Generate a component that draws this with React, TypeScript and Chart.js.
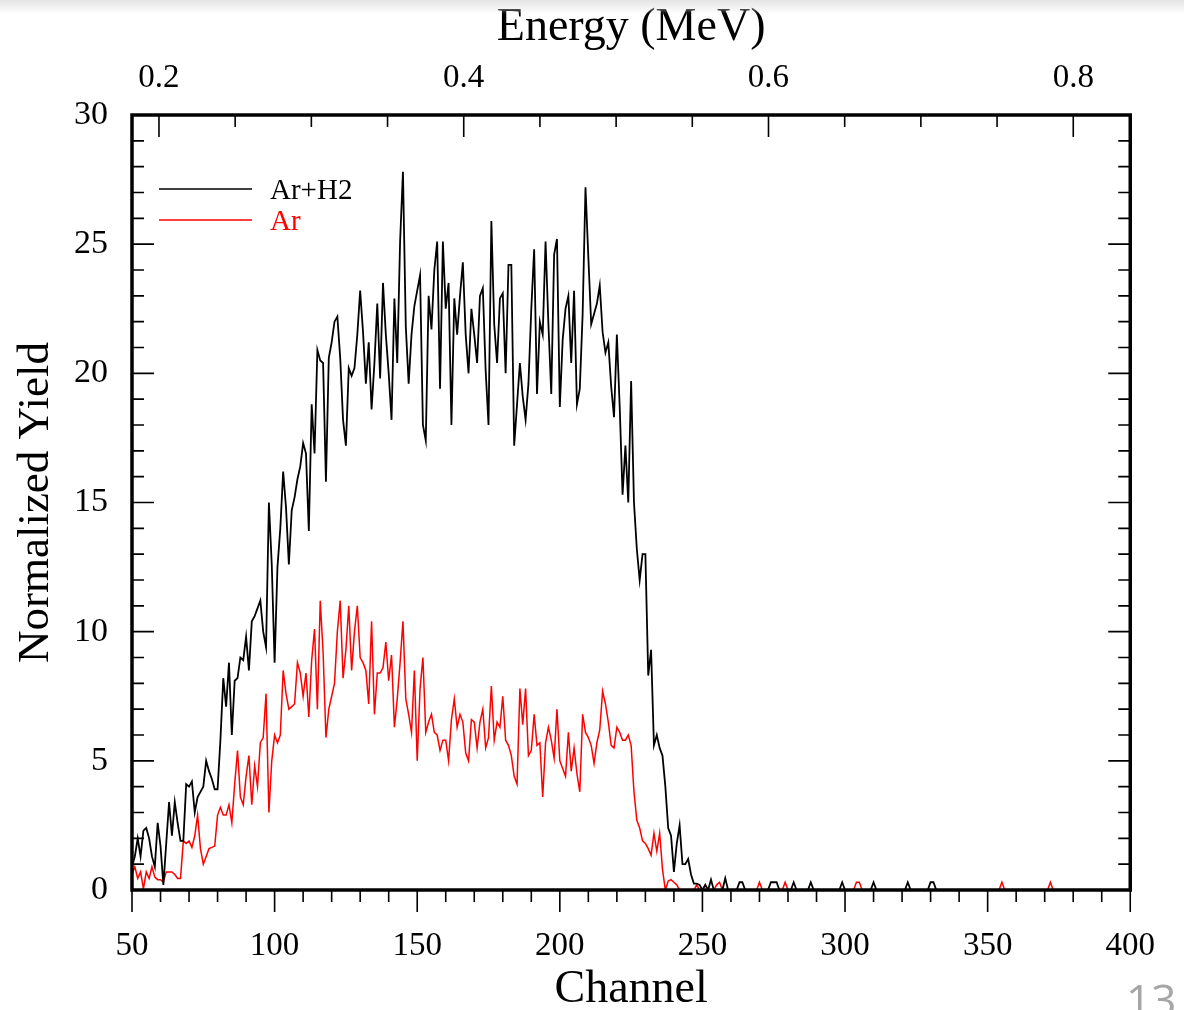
import React, { useEffect, useRef } from "react";
import { Chart, registerables } from "chart.js";

Chart.register(...registerables);

// ---------- data ----------
const startChannel = 50;

// Ar+H2 yield, one value per channel starting at channel 50 (50..259)
const arH2Main = [
  0.9, 1.3, 2.0, 1.3, 2.3, 2.4, 2.0, 1.3, 0.9, 2.6,
  1.7, 0.2, 1.8, 3.4, 2.1, 3.4, 2.6, 1.9, 1.9, 4.1,
  4.0, 4.2, 3.0, 3.6, 3.8, 4.0, 5.0, 4.6, 4.3, 3.9,
  3.9, 5.8, 8.2, 7.1, 8.8, 6.0, 8.1, 8.2, 9.0, 8.9,
  9.8, 8.5, 10.4, 10.6, 10.9, 11.2, 10.0, 9.4, 15.0, 12.6,
  8.8, 12.5, 14.0, 16.2, 14.8, 12.6, 14.7, 15.2, 15.9, 16.4,
  17.3, 16.9, 13.9, 18.8, 16.9, 20.9, 20.5, 20.4, 15.8, 20.6,
  21.2, 22.0, 22.2, 20.6, 18.2, 17.2, 20.2, 19.9, 20.2, 21.5,
  23.2, 21.6, 19.6, 21.2, 18.6, 20.4, 22.7, 19.8, 23.5, 21.5,
  20.0, 18.2, 22.9, 20.4, 25.1, 27.8, 21.8, 19.6, 21.5, 22.6,
  23.2, 23.8, 18.0, 17.4, 23.0, 21.7, 24.0, 25.1, 19.4, 25.1,
  22.5, 23.5, 18.0, 22.9, 21.5, 23.0, 24.3, 21.5, 20.0, 22.5,
  21.5, 20.4, 23.0, 23.3, 20.1, 18.0, 25.9, 21.9, 20.4, 22.9,
  23.1, 20.0, 24.2, 24.2, 17.2, 18.8, 20.4, 19.1, 18.2, 19.6,
  22.5, 24.8, 19.2, 22.0, 21.5, 25.1, 21.9, 19.2, 24.6, 25.2,
  18.7, 21.3, 22.5, 23.0, 20.4, 23.2, 18.8, 19.4, 22.3, 27.2,
  24.5, 21.9, 22.3, 22.7, 23.4, 21.6, 20.8, 21.2, 19.5, 18.3,
  21.5, 18.7, 15.3, 17.2, 15.0, 19.7, 15.0, 13.2, 12.0, 13.0,
  13.0, 8.3, 9.3, 5.6, 6.0, 5.5, 5.2, 4.0, 2.4, 2.1,
  0.7, 1.8, 2.5, 1.0, 1.0, 1.2, 0.6, 0.25, 0.25, 0.2,
  0.0, 0.2, 0.0, 0.4, 0.0, 0.0, 0.0, 0.0, 0.45, 0.0,
];

// Ar yield, one value per channel starting at channel 50 (50..259)
const arMain = [
  0.6, 0.9, 0.45, 0.7, 0.05, 0.7, 0.45, 0.9, 0.5, 0.4,
  0.4, 0.3, 0.7, 0.7, 0.7, 0.6, 0.45, 0.45, 1.9, 1.8,
  1.9, 1.65, 2.1, 2.9, 1.6, 1.0, 1.3, 1.6, 1.65, 1.7,
  2.9, 3.2, 2.9, 2.9, 3.3, 2.6, 4.1, 5.4, 3.6, 3.3,
  4.4, 5.2, 3.3, 4.8, 4.0, 5.7, 5.9, 7.6, 3.0, 5.0,
  6.0, 5.7, 6.0, 8.5, 7.6, 7.0, 7.1, 7.2, 8.8, 8.4,
  7.5, 8.4, 6.7, 8.9, 10.1, 7.0, 11.2, 9.2, 5.9, 7.0,
  7.5, 8.0, 10.0, 11.2, 8.2, 9.3, 11.0, 8.5, 10.0, 11.0,
  9.0, 8.8, 8.5, 7.2, 10.4, 6.8, 8.4, 8.4, 8.6, 9.6,
  8.1, 9.1, 6.3, 7.4, 8.8, 10.4, 7.4, 6.8, 6.1, 8.5,
  5.0, 7.8, 9.0, 6.1, 6.5, 6.8, 6.1, 6.0, 5.4, 5.8,
  5.8, 5.0, 6.6, 7.4, 6.3, 6.8, 6.5, 5.3, 5.0, 6.6,
  6.5, 5.5, 6.5, 7.0, 5.5, 5.9, 7.9, 5.8, 6.5, 6.3,
  7.5, 5.8, 5.6, 5.2, 4.4, 4.1, 7.8, 6.4, 7.8, 5.2,
  5.4, 6.8, 5.6, 5.7, 3.6, 5.7, 6.3, 5.8, 5.1, 7.0,
  5.0, 4.7, 4.4, 6.1, 4.6, 5.5, 4.5, 3.8, 6.8, 6.1,
  5.9, 5.6, 4.9, 5.7, 6.2, 7.7, 7.2, 6.5, 5.6, 5.5,
  6.3, 6.1, 5.8, 5.8, 6.0, 5.6, 3.8, 2.7, 2.4, 1.9,
  1.8, 1.6, 1.35, 2.2, 1.5, 2.2, 0.8, 0.0, 0.35, 0.4,
  0.3, 0.2, 0.0, 0.0, 0.0, 0.0, 0.0, 0.0, 0.2, 0.0,
  0.0, 0.2, 0.0, 0.0, 0.0, 0.2, 0.3, 0.0, 0.0, 0.0,
];

// Sparse tail (channels 260..400): small isolated counts
const arH2TailChannels = [260, 262, 263, 264, 265, 273, 274, 275, 276, 277, 281, 282, 283, 287, 288, 289, 298, 299, 300, 309, 310, 311, 321, 322, 323, 329, 330, 331, 332, 400];
const arH2TailValues = [0, 0, 0.3, 0.3, 0, 0, 0.3, 0.3, 0.3, 0, 0, 0.3, 0, 0, 0.3, 0, 0, 0.3, 0, 0, 0.3, 0, 0, 0.3, 0, 0, 0.3, 0.3, 0, 0];
const arTailChannels = [260, 269, 270, 271, 278, 279, 280, 303, 304, 305, 306, 354, 355, 356, 371, 372, 373, 400];
const arTailValues = [0, 0, 0.3, 0, 0, 0.3, 0, 0, 0.3, 0.3, 0, 0, 0.3, 0, 0, 0.3, 0, 0];

const seriesLabels = ["Ar+H2", "Ar"];
const seriesColors = ["#000000", "#ff0000"];

// axes
const channelRange = [50, 400];
const channelTicks = [50, 100, 150, 200, 250, 300, 350, 400];
const channelMinorTicks = [50, 60, 70, 80, 90, 100, 110, 120, 130, 140, 150, 160, 170, 180, 190, 200, 210, 220, 230, 240, 250, 260, 270, 280, 290, 300, 310, 320, 330, 340, 350, 360, 370, 380, 390, 400];
const energyRange = [0.1823, 0.8374];
const energyTicks = [0.2, 0.4, 0.6, 0.8];
const energyMinorTicks = [0.2, 0.25, 0.3, 0.35, 0.4, 0.45, 0.5, 0.55, 0.6, 0.65, 0.7, 0.75, 0.8];
const yieldRange = [0, 30];
const yieldTicks = [0, 5, 10, 15, 20, 25, 30];
const yieldMinorTicks = [0, 1, 2, 3, 4, 5, 6, 7, 8, 9, 10, 11, 12, 13, 14, 15, 16, 17, 18, 19, 20, 21, 22, 23, 24, 25, 26, 27, 28, 29, 30];

function buildPoints(main: number[], tailCh: number[], tailV: number[]) {
  const pts = main.map((v, i) => ({ x: startChannel + i, y: v }));
  tailCh.forEach((c, i) => pts.push({ x: c, y: tailV[i] }));
  return pts;
}

const SERIF = "'Liberation Serif', 'Times New Roman', serif";

const framePlugin = {
  id: "frameTicksLegend",
  afterDraw(chart: any) {
    const { ctx, chartArea: a, scales } = chart;
    const xs = scales.x;
    const xt = scales.xTop;
    const ys = scales.y;
    ctx.save();
    ctx.strokeStyle = "#000";
    ctx.lineWidth = 1.6;
    ctx.beginPath();
    channelMinorTicks.forEach((c) => {
      const px = xs.getPixelForValue(c);
      const len = channelTicks.includes(c) ? 22 : 12;
      ctx.moveTo(px, a.bottom);
      ctx.lineTo(px, a.bottom + len);
    });
    energyMinorTicks.forEach((e) => {
      const px = xt.getPixelForValue(e);
      const len = energyTicks.some((t) => Math.abs(t - e) < 1e-9) ? 22 : 12;
      ctx.moveTo(px, a.top);
      ctx.lineTo(px, a.top + len);
    });
    yieldMinorTicks.forEach((v) => {
      const py = ys.getPixelForValue(v);
      const len = yieldTicks.includes(v) ? 22 : 12;
      ctx.moveTo(a.left, py);
      ctx.lineTo(a.left + len, py);
      ctx.moveTo(a.right, py);
      ctx.lineTo(a.right - len, py);
    });
    ctx.stroke();

    ctx.lineWidth = 3.5;
    ctx.strokeRect(a.left, a.top, a.right - a.left, a.bottom - a.top);

    // legend
    ctx.font = "29px " + SERIF;
    ctx.textBaseline = "alphabetic";
    ctx.textAlign = "left";
    chart.data.datasets.forEach((ds: any, i: number) => {
      const ly = a.top + 74 + i * 31;
      ctx.strokeStyle = ds.borderColor;
      ctx.lineWidth = 1.3;
      ctx.beginPath();
      ctx.moveTo(a.left + 27, ly);
      ctx.lineTo(a.left + 120, ly);
      ctx.stroke();
      ctx.fillStyle = ds.borderColor;
      ctx.fillText(ds.label, a.left + 138, ly + 10);
    });
    ctx.restore();
  },
};

export default function App() {
  const canvasRef = useRef<HTMLCanvasElement | null>(null);

  useEffect(() => {
    const canvas = canvasRef.current;
    if (!canvas) return;
    const chart = new Chart(canvas, {
      type: "line",
      data: {
        datasets: [
          {
            label: seriesLabels[0],
            data: buildPoints(arH2Main, arH2TailChannels, arH2TailValues),
            borderColor: seriesColors[0],
            borderWidth: 1.8,
            pointRadius: 0,
            tension: 0,
            xAxisID: "x",
            yAxisID: "y",
          },
          {
            label: seriesLabels[1],
            data: buildPoints(arMain, arTailChannels, arTailValues),
            borderColor: seriesColors[1],
            borderWidth: 1.5,
            pointRadius: 0,
            tension: 0,
            xAxisID: "x",
            yAxisID: "y",
          },
        ],
      },
      options: {
        animation: false,
        responsive: false,
        devicePixelRatio: 1,
        layout: { padding: { left: 0, right: 52, top: 0, bottom: 0 } },
        plugins: {
          legend: { display: false },
          tooltip: { enabled: false },
        },
        scales: {
          x: {
            type: "linear",
            position: "bottom",
            min: channelRange[0],
            max: channelRange[1],
            afterBuildTicks: (s: any) => {
              s.ticks = channelTicks.map((v) => ({ value: v }));
            },
            afterFit: (s: any) => {
              s.height = 120;
            },
            grid: { display: false },
            border: { display: false },
            ticks: {
              color: "#000",
              padding: 29,
              maxRotation: 0,
              autoSkip: false,
              font: { family: SERIF, size: 33 },
              callback: (v: any) => String(v),
            },
            title: {
              display: true,
              text: "Channel",
              color: "#000",
              font: { family: SERIF, size: 46, lineHeight: 1 },
              padding: { top: 0, bottom: -3 },
            },
          },
          xTop: {
            type: "linear",
            position: "top",
            min: energyRange[0],
            max: energyRange[1],
            afterBuildTicks: (s: any) => {
              s.ticks = energyTicks.map((v) => ({ value: v }));
            },
            afterFit: (s: any) => {
              s.height = 115;
            },
            grid: { display: false },
            border: { display: false },
            ticks: {
              color: "#000",
              padding: 9,
              maxRotation: 0,
              autoSkip: false,
              font: { family: SERIF, size: 33 },
              callback: (v: any) => Number(v).toFixed(1),
            },
            title: {
              display: true,
              text: "Energy (MeV)",
              color: "#000",
              font: { family: SERIF, size: 46, lineHeight: 1 },
              padding: { top: 5, bottom: 0 },
            },
          },
          y: {
            type: "linear",
            position: "left",
            min: yieldRange[0],
            max: yieldRange[1],
            afterBuildTicks: (s: any) => {
              s.ticks = yieldTicks.map((v) => ({ value: v }));
            },
            afterFit: (s: any) => {
              s.width = 132;
            },
            grid: { display: false },
            border: { display: false },
            ticks: {
              color: "#000",
              padding: 16,
              autoSkip: false,
              font: { family: SERIF, size: 34 },
              callback: (v: any) => String(v),
            },
            title: {
              display: true,
              text: "Normalized Yield",
              color: "#000",
              font: { family: SERIF, size: 45, lineHeight: 1 },
              padding: { top: 14, bottom: 0 },
            },
          },
        },
      },
      plugins: [framePlugin],
    } as any);
    return () => chart.destroy();
  }, []);

  return (
    <div
      style={{
        position: "absolute",
        left: 0,
        top: 0,
        width: 1184,
        height: 1010,
        overflow: "hidden",
        background: "#fff",
      }}
    >
      <div style={{ position: "absolute", left: 0, top: 0, width: 1156, height: 1010, overflow: "hidden" }}>
        <canvas ref={canvasRef} width={1184} height={1010} style={{ display: "block" }} />
      </div>
      <div
        style={{
          position: "absolute",
          left: 0,
          top: 0,
          width: 1184,
          height: 14,
          background: "linear-gradient(#e4e4e4, rgba(255,255,255,0))",
        }}
      />
      <div
        style={{
          position: "absolute",
          left: 1126,
          top: 977,
          fontFamily: "'Open Sans', sans-serif",
          fontSize: 44,
          lineHeight: 1,
          color: "#a6a6a6",
        }}
      >
        13
      </div>
    </div>
  );
}
